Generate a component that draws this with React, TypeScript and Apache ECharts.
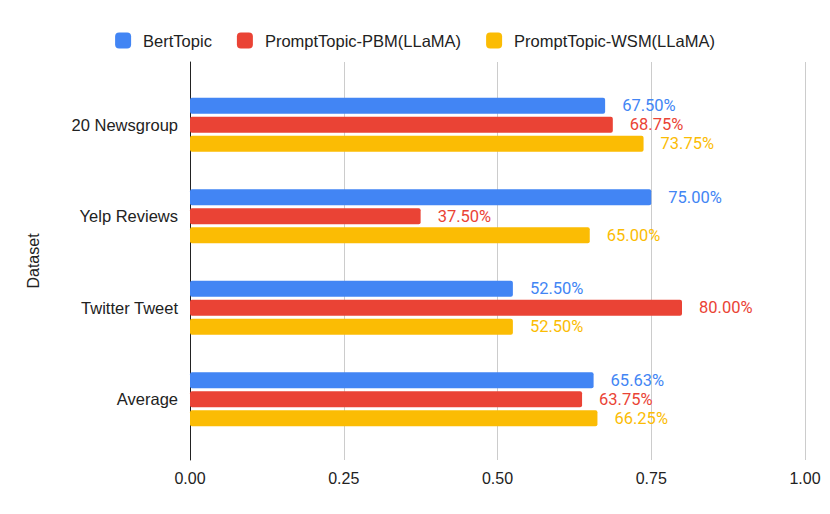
import React, { useEffect, useRef } from "react";
import * as echarts from "echarts";

const categories = ["20 Newsgroup", "Yelp Reviews", "Twitter Tweet", "Average"];
const bertTopic = [0.675, 0.75, 0.525, 0.65625];
const pbmLlama = [0.6875, 0.375, 0.8, 0.6375];
const wsmLlama = [0.7375, 0.65, 0.525, 0.6625];
const seriesNames = ["BertTopic", "PromptTopic-PBM(LLaMA)", "PromptTopic-WSM(LLaMA)"];
const colors = ["#4285F4", "#EA4335", "#FBBC04"];
const xTicks = [0, 0.25, 0.5, 0.75, 1];

export default function App() {
  const ref = useRef<HTMLDivElement>(null);
  useEffect(() => {
    if (!ref.current) return;
    const chart = echarts.init(ref.current, null, { renderer: "svg" });
    const font = "'Liberation Sans', Arial, sans-serif";
    const mk = (name: string, data: number[], color: string) => ({
      name,
      type: "bar",
      xAxisIndex: 1,
      yAxisIndex: 1,
      data,
      barWidth: 16,
      barGap: "19%",
      itemStyle: { color, borderRadius: 2 },
      label: {
        show: true,
        position: "right",
        distance: 17,
        color,
        fontFamily: "Roboto, sans-serif",
        fontSize: 16.5,
        formatter: (p: any) => (p.value * 100).toFixed(2) + "%",
      },
    });
    chart.setOption({
      animation: false,
      backgroundColor: "#fff",
      textStyle: { fontFamily: font },
      legend: {
        top: 27,
        left: "center",
        icon: "roundRect",
        itemWidth: 16,
        itemHeight: 16,
        itemGap: 25,
        textStyle: { fontSize: 16.5, color: "#222", fontFamily: font, padding: [0, 0, 0, 7] },
        data: seriesNames,
      },
      grid: [
        { left: 190, right: 25, top: 62, bottom: 54 },
        { left: 190, right: 25, top: 79, height: 366 },
      ],
      xAxis: [
        {
          gridIndex: 0,
          type: "value",
          min: 0,
          max: 1,
          interval: 0.25,
          axisLine: { show: false },
          axisTick: { show: false },
          splitLine: { show: true, lineStyle: { color: "#cccccc", width: 1 } },
          axisLabel: {
            color: "#222",
            fontSize: 16,
            margin: 10,
            formatter: (v: number) => {
              const i = xTicks.indexOf(v);
              return i >= 0 ? xTicks[i].toFixed(2) : "";
            },
          },
        },
        {
          gridIndex: 1,
          type: "value",
          min: 0,
          max: 1,
          show: false,
        },
      ],
      yAxis: [
        {
          gridIndex: 0,
          type: "value",
          min: 0,
          max: 1,
          axisLine: { show: true, lineStyle: { color: "#222", width: 1 } },
          axisTick: { show: false },
          axisLabel: { show: false },
          splitLine: { show: false },
          name: "Dataset",
          nameLocation: "middle",
          nameGap: 149,
          nameTextStyle: { fontSize: 16, color: "#222" },
        },
        {
          gridIndex: 1,
          type: "category",
          data: categories,
          inverse: true,
          axisLine: { show: false },
          axisTick: { show: false },
          splitLine: { show: false },
          axisLabel: { color: "#222", fontSize: 16.5, margin: 12 },
        },
      ],
      series: [
        mk(seriesNames[0], bertTopic, colors[0]),
        mk(seriesNames[1], pbmLlama, colors[1]),
        mk(seriesNames[2], wsmLlama, colors[2]),
      ],
    });
    return () => chart.dispose();
  }, []);
  return (
    <div
      ref={ref}
      style={{ position: "fixed", left: 0, top: 0, width: 830, height: 514 }}
    />
  );
}
